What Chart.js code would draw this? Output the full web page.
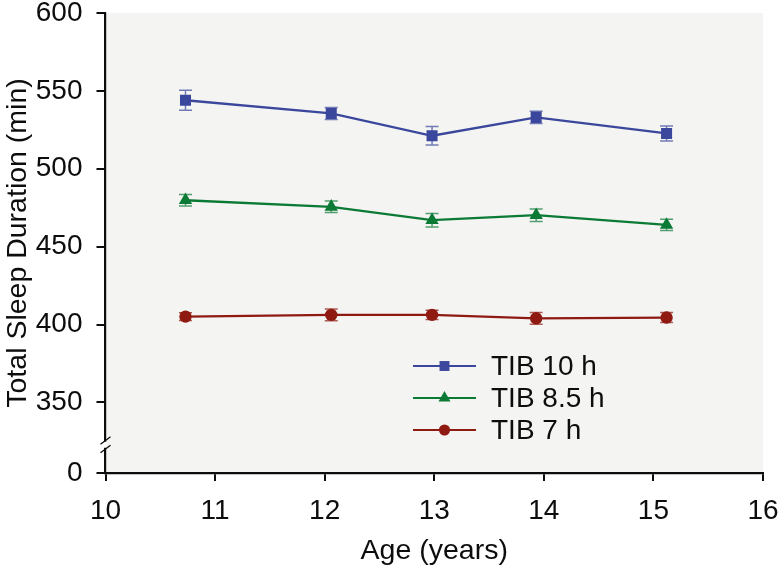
<!DOCTYPE html>
<html>
<head>
<meta charset="utf-8">
<script src="https://cdn.jsdelivr.net/npm/chart.js@4.4.1/dist/chart.umd.min.js"></script>
<style>
html,body{margin:0;padding:0;background:#fff;}
#wrap{width:779px;height:570px;position:relative;}
</style>
</head>
<body>
<div id="wrap"><canvas id="sleepChart"></canvas></div>
<script>
// values
const ages=[10.73,12.06,12.98,13.93,15.12];
const tib10=[544.0,535.5,521.2,533.0,522.7];
const tib10Err=[6.4,3.9,5.9,3.9,4.8];
const tib85=[479.8,475.6,467.0,470.2,464.0];
const tib85Err=[3.7,3.7,4.3,4.0,3.6];
const tib7=[405.1,406.2,406.2,404.0,404.5];
const tib7Err=[2.5,3.8,3.0,3.8,3.2];
const seriesLabels=['TIB 10 h','TIB 8.5 h','TIB 7 h'];
const xTicks=[10,11,12,13,14,15,16];
const yTicks=[350,400,450,500,550,600];
const breakBase=304.7; // value where the "0" of the broken axis sits

const FONT='"Liberation Sans", Arial, sans-serif';
const INK='#0d0d0d';
Chart.defaults.font.family=FONT;
Chart.defaults.color=INK;

const toPoints=(ys)=>ys.map((y,i)=>({x:ages[i],y:y}));

const drawMarker=(ctx,style,x,y,r,color)=>{
  ctx.save();
  ctx.fillStyle=color;
  ctx.beginPath();
  if(style==='rect'){
    const s=r*Math.SQRT1_2;
    ctx.rect(x-s,y-s,2*s,2*s);
  }else if(style==='triangle'){
    ctx.moveTo(x,y-r);
    ctx.lineTo(x+r*Math.sin(Math.PI/3),y+r*0.5);
    ctx.lineTo(x-r*Math.sin(Math.PI/3),y+r*0.5);
    ctx.closePath();
  }else{
    ctx.arc(x,y,r,0,Math.PI*2);
  }
  ctx.fill();
  ctx.restore();
};

const plotBg={
  id:'plotBg',
  beforeDraw(chart){
    const {ctx,chartArea:a}=chart;
    ctx.save();
    ctx.fillStyle='#f4f4f3';
    ctx.fillRect(a.left,a.top,a.right-a.left,a.bottom-a.top);
    ctx.restore();
  }
};

const errorBars={
  id:'errorBars',
  beforeDatasetDraw(chart,args){
    const ds=chart.data.datasets[args.index];
    if(!ds.errors) return;
    const ctx=chart.ctx;
    const yScale=chart.scales.y;
    ctx.save();
    ctx.strokeStyle=ds.borderColor;
    ctx.globalAlpha=0.7;
    ctx.lineWidth=1.5;
    args.meta.data.forEach((el,i)=>{
      const v=ds.data[i].y, e=ds.errors[i];
      const top=yScale.getPixelForValue(v+e);
      const bot=yScale.getPixelForValue(v-e);
      const x=el.x, w=6.5;
      ctx.beginPath();
      ctx.moveTo(x,top);ctx.lineTo(x,bot);
      ctx.moveTo(x-w,top);ctx.lineTo(x+w,top);
      ctx.moveTo(x-w,bot);ctx.lineTo(x+w,bot);
      ctx.stroke();
    });
    ctx.restore();
  }
};

const lineLegend={
  id:'lineLegend',
  afterDraw(chart){
    const ctx=chart.ctx;
    const x1=413,x2=476,textX=491,y0=366,gap=32;
    ctx.save();
    chart.data.datasets.forEach((ds,i)=>{
      const y=y0+i*gap;
      ctx.strokeStyle=ds.borderColor;
      ctx.lineWidth=2;
      ctx.beginPath();ctx.moveTo(x1,y);ctx.lineTo(x2,y);ctx.stroke();
      drawMarker(ctx,ds.pointStyle,(x1+x2)/2,y,ds.pointRadius*0.9,ds.borderColor);
      ctx.fillStyle=INK;
      ctx.font='28px '+FONT;
      ctx.textBaseline='middle';
      ctx.textAlign='left';
      ctx.fillText(ds.label,textX,y+1);
    });
    ctx.restore();
  }
};

const axisBreak={
  id:'axisBreak',
  afterDraw(chart){
    const ctx=chart.ctx;
    const y=chart.scales.y;
    const x=chart.chartArea.left;
    const p350=y.getPixelForValue(yTicks[0]);
    const p0=y.getPixelForValue(breakBase);
    const c=p350+0.6*(p0-p350);
    ctx.save();
    ctx.fillStyle='#ffffff';
    ctx.fillRect(x-2,c-3,4,6);
    ctx.fillStyle='#f4f4f3';
    ctx.fillRect(x+1,c-3,2,6);
    ctx.strokeStyle=INK;
    ctx.lineWidth=1.3;
    ctx.beginPath();
    ctx.moveTo(x-5,c-0.5);ctx.lineTo(x+5,c-8);
    ctx.moveTo(x-5,c+8);ctx.lineTo(x+5,c+0.5);
    ctx.stroke();
    ctx.restore();
  }
};

const series=[
  {label:seriesLabels[0],ys:tib10,err:tib10Err,color:'#3b479c',style:'rect',r:7.8},
  {label:seriesLabels[1],ys:tib85,err:tib85Err,color:'#0b7a35',style:'triangle',r:7.7},
  {label:seriesLabels[2],ys:tib7,err:tib7Err,color:'#8e1a12',style:'circle',r:6.2}
];

const tickFont={size:28,family:FONT};
const titleFont={size:28.5,family:FONT};

new Chart(document.getElementById('sleepChart'),{
  type:'line',
  data:{
    datasets:series.map(s=>({
      label:s.label,
      data:toPoints(s.ys),
      errors:s.err,
      borderColor:s.color,
      backgroundColor:s.color,
      borderWidth:2.3,
      pointStyle:s.style,
      pointRadius:s.r,
      pointHoverRadius:s.r,
      pointBorderWidth:0,
      tension:0,
      fill:false
    }))
  },
  options:{
    responsive:true,
    maintainAspectRatio:false,
    animation:false,
    layout:{padding:{left:0,right:16,top:13,bottom:0}},
    plugins:{legend:{display:false},tooltip:{enabled:false}},
    scales:{
      x:{
        type:'linear',min:10,max:16,
        afterBuildTicks:(s)=>{s.ticks=xTicks.map(v=>({value:v}));},
        afterFit:(s)=>{s.height=97;s.paddingLeft=0;s.paddingRight=0;},
        ticks:{font:tickFont,color:INK,padding:13,maxRotation:0},
        grid:{display:true,drawOnChartArea:false,drawTicks:true,tickLength:8,color:INK,lineWidth:2},
        border:{display:true,color:INK,width:2.2},
        title:{display:true,text:'Age (years)',font:titleFont,color:INK,padding:{top:0,bottom:2}}
      },
      y:{
        type:'linear',min:breakBase,max:600,
        afterBuildTicks:(s)=>{s.ticks=[breakBase,...yTicks].map(v=>({value:v}));},
        afterFit:(s)=>{s.width=105.5;s.paddingTop=0;s.paddingBottom=0;},
        ticks:{font:tickFont,color:INK,padding:14,autoSkip:false,
          callback:(v)=>v===breakBase?'0':String(v)},
        grid:{display:true,drawOnChartArea:false,drawTicks:true,tickLength:9,color:INK,lineWidth:2},
        border:{display:true,color:INK,width:2.2},
        title:{display:true,text:'Total Sleep Duration (min)',font:titleFont,color:INK,padding:{top:1,bottom:0}}
      }
    }
  },
  plugins:[plotBg,errorBars,lineLegend,axisBreak]
});
</script>
</body>
</html>
